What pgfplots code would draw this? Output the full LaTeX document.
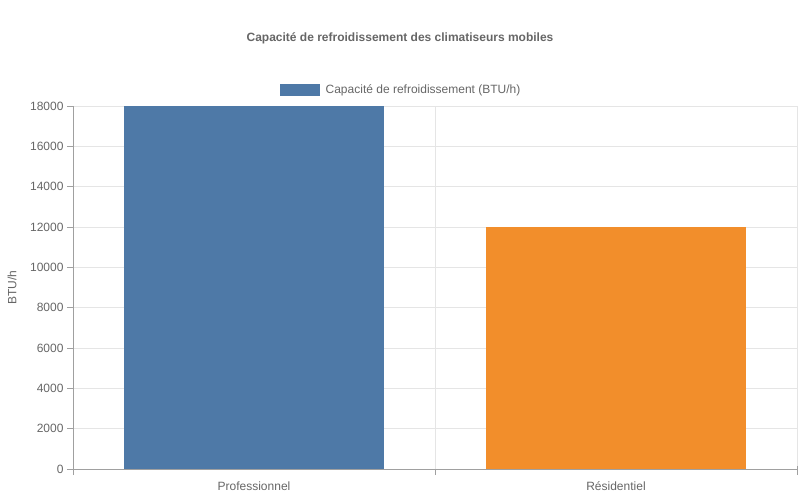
\documentclass[border=0pt]{standalone}
\usepackage{pgfplots}
\pgfplotsset{compat=1.18}
\usepackage{fontspec}
\setmainfont{Liberation Sans}
\definecolor{barblue}{HTML}{4E79A7}
\definecolor{barorange}{HTML}{F28E2B}
\definecolor{txt}{HTML}{666666}
\definecolor{gridc}{HTML}{E5E5E5}
\definecolor{axc}{HTML}{A0A0A0}
\begin{document}
\begin{tikzpicture}
\useasboundingbox (-73bp,-31bp) rectangle (727bp,469bp);
\begin{axis}[
    scale only axis,
    width=724bp,
    height=363bp,
    xmin=-0.5, xmax=1.5,
    ymin=0, ymax=18000,
    scaled y ticks=false,
    axis x line*=bottom,
    axis y line*=left,
    axis line style={draw=axc, line width=0.8bp},
    ytick={0,2000,...,18000},
    xtick={-0.5,0.5,1.5},
    xticklabels={},
    extra x ticks={0,1},
    extra x tick labels={Professionnel,Résidentiel},
    extra x tick style={grid=none, major tick length=0pt,
        tick style={draw=none},
        tick label style={yshift=-9bp}},
    ymajorgrids=true,
    xmajorgrids=true,
    major grid style={draw=gridc, line width=0.8bp},
    tick align=outside,
    major tick length=6bp,
    tick style={draw=axc, line width=0.8bp},
    x tick style={shorten >=-3bp},
    tick label style={font=\fontsize{12bp}{14bp}\selectfont, text=txt},
    /pgf/number format/assume math mode=true,
    /pgf/number format/1000 sep={},
    ylabel={BTU/h},
    ylabel style={at={(axis description cs:-0.0843,0.5)}, anchor=center,
        font=\fontsize{12bp}{14bp}\selectfont, text=txt},
    title={Capacité de refroidissement des climatiseurs mobiles},
    title style={at={(axis description cs:0.4517,1.171)}, anchor=center,
        font=\bfseries\fontsize{12bp}{14bp}\selectfont, text=txt},
    legend style={at={(axis description cs:0.4517,1.044)}, anchor=center,
        draw=none, fill=none, inner sep=0pt, column sep=6bp,
        nodes={inner sep=0pt, text=txt, font=\fontsize{12bp}{14bp}\selectfont}},
]
\addplot[ybar, bar shift=0pt, bar width=0.72, fill=barblue, draw=none,
    legend image code/.code={\fill[barblue] (0bp,-6bp) rectangle (40bp,6bp);}]
    coordinates {(0,18000)};
\addlegendentry{Capacité de refroidissement (BTU/h)}
\addplot[ybar, bar shift=0pt, bar width=0.72, fill=barorange, draw=none, forget plot]
    coordinates {(1,12000)};
\end{axis}
\end{tikzpicture}
\end{document}
